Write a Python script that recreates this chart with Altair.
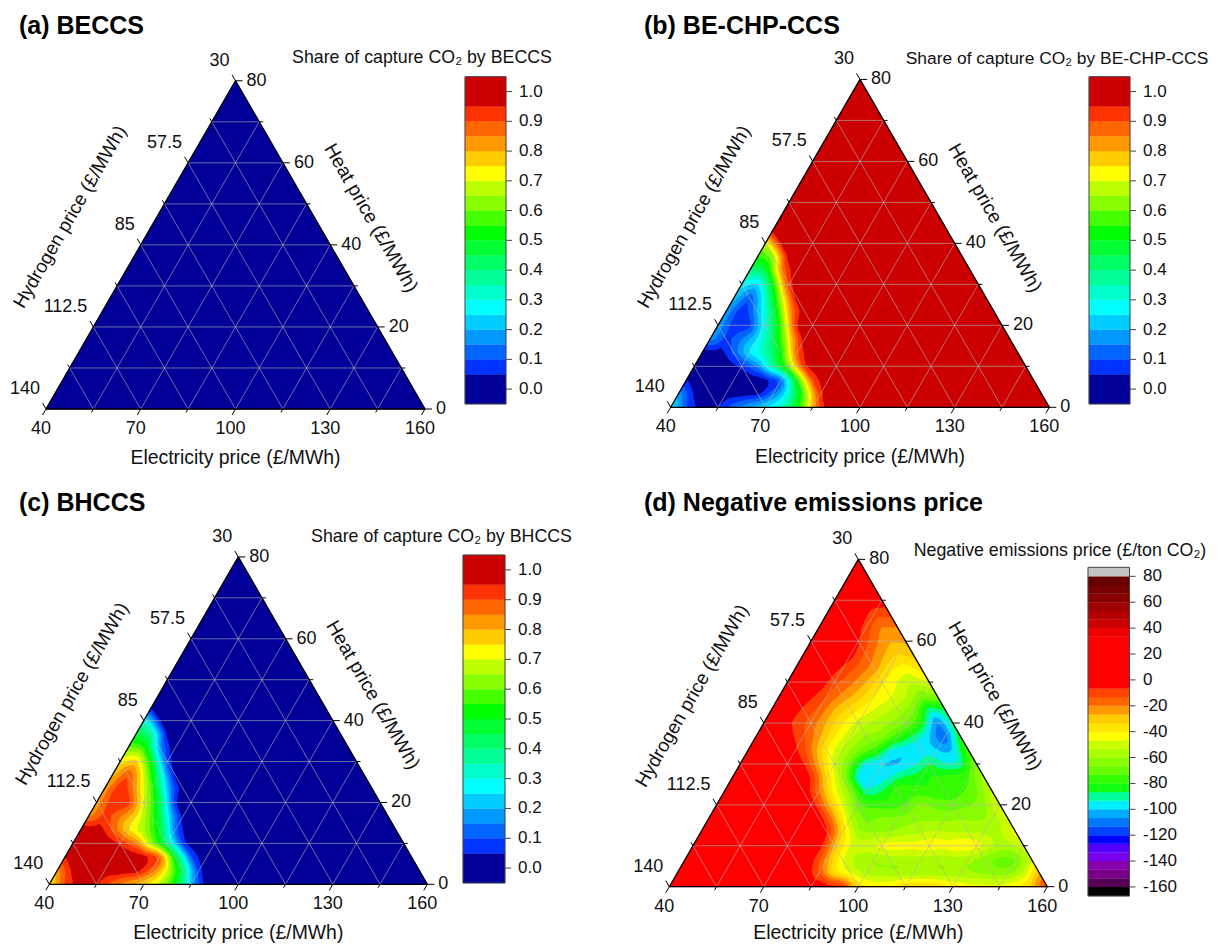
import altair as alt
import pandas as pd

share_levels = [-0.05, 0.05, 0.10, 0.15, 0.20, 0.25, 0.30, 0.35, 0.40, 0.45, 0.50, 0.55, 0.60, 0.65, 0.70, 0.75, 0.80, 0.85, 0.90, 0.95, 1.05]
share_colors = ["#000099", "#0033ff", "#0066ff", "#0099ff", "#00ccff", "#00ffff", "#00ffcc", "#00ff99", "#00ff66", "#00ff33",
                "#00ff00", "#44ff00", "#88ff00", "#bbff00", "#ffff00", "#ffcc00", "#ff9900", "#ff6600", "#ff3300", "#cc0000"]
share_ticks = [0.0, 0.1, 0.2, 0.3, 0.4, 0.5, 0.6, 0.7, 0.8, 0.9, 1.0]

neg_levels = [-167, -160, -153.3, -146.7, -140, -133.3, -126.7, -120, -113.3, -106.7, -100, -93.3, -86.7, -80, -73.3, -66.7, -60,
              -53.3, -46.7, -40, -33.3, -26.7, -20, -13.3, -6.7, 33.3, 40, 46.7, 53.3, 60, 66.7, 73.3, 80, 87]
neg_colors = ["#000000", "#550055", "#770088", "#8800aa", "#7700ee", "#5500ff", "#0000ff", "#0044ff", "#0077ff", "#00aaff",
              "#00eeff", "#00ff99", "#11ff11", "#33ff00", "#66ff00", "#88ff00", "#aaff00", "#ccff00", "#ffff00", "#ffe500", "#ffcc00",
              "#ff9900", "#ff6600", "#ff4400", "#ff0000", "#ee0000", "#cc0000", "#b30000", "#a00000", "#880000", "#770000", "#660000", "#c4c4c4"]
neg_ticks = [-160, -140, -120, -100, -80, -60, -40, -20, 0, 20, 40, 60, 80]

bottom_labels = ["40", "70", "100", "130", "160"]
left_labels = ["140", "112.5", "85", "57.5", "30"]
right_labels = ["0", "20", "40", "60", "80"]

a_rows = [[0.0, 0.0], [0.0]]
b_rows = [
    [0.30, 0.08, 0.03, 0.05, 0.15, 0.22, 0.28, 0.33, 0.50, 0.80, 1.0],
    [0.20, 0.03, 0.0, 0.0, 0.0, 0.0, 0.12, 0.30, 0.58, 0.95, 1.0],
    [0.05, 0.0, 0.0, 0.0, 0.0, 0.0, 0.05, 0.50, 0.92, 1.0],
    [0.0, 0.0, 0.0, 0.05, 0.15, 0.40, 0.65, 0.97, 1.0],
    [0.0, 0.0, 0.12, 0.28, 0.35, 0.50, 0.90, 1.0],
    [0.20, 0.07, 0.15, 0.25, 0.42, 0.72, 1.0],
    [0.20, 0.05, 0.05, 0.30, 0.55, 0.98, 1.0],
    [0.20, 0.03, 0.20, 0.42, 0.80, 1.0],
    [0.25, 0.07, 0.30, 0.65, 1.0],
    [0.30, 0.20, 0.50, 0.95, 1.0],
    [0.40, 0.42, 0.85, 1.0],
    [0.55, 0.60, 1.0],
    [0.65, 0.98, 1.0],
]
c_rows = [
    [0.70, 0.92, 0.97, 0.95, 0.85, 0.78, 0.72, 0.67, 0.50, 0.20, 0.0],
    [0.80, 0.97, 1.0, 1.0, 1.0, 1.0, 0.88, 0.70, 0.42, 0.05, 0.0],
    [0.95, 1.0, 1.0, 1.0, 1.0, 1.0, 0.95, 0.50, 0.08, 0.0],
    [1.0, 1.0, 1.0, 0.95, 0.85, 0.60, 0.35, 0.03, 0.0],
    [1.0, 1.0, 0.88, 0.72, 0.65, 0.50, 0.10, 0.0],
    [0.80, 0.93, 0.85, 0.75, 0.58, 0.28, 0.0],
    [0.80, 0.95, 0.95, 0.70, 0.45, 0.02, 0.0],
    [0.80, 0.97, 0.80, 0.58, 0.20, 0.0],
    [0.75, 0.93, 0.70, 0.35, 0.0],
    [0.70, 0.80, 0.50, 0.05, 0.0],
    [0.60, 0.58, 0.15, 0.0],
    [0.45, 0.40, 0.0],
    [0.35, 0.02, 0.0],
]
d_rows = [
    [0, 0, 0, 0, 0, 0, 0, 0, 0, 0, 0, 0, -35, -40, -38, -30, -30, -32, -38, -42, -42, -42, -38, -32, -5],
    [0, 0, 0, 0, 0, 0, 0, 0, 0, -15, -42, -50, -57, -60, -62, -62, -60, -62, -60, -62, -65, -65, -55, -25],
    [0, 0, 0, 0, 0, 0, 0, 0, -3, -25, -48, -58, -62, -60, -58, -58, -60, -58, -60, -65, -72, -70, -50],
    [0, 0, 0, 0, 0, 0, 0, 0, 0, -30, -48, -48, -40, -40, -42, -40, -42, -38, -40, -52, -56, -48],
    [0, 0, 0, 0, 0, 0, 0, 0, -3, -35, -60, -62, -62, -58, -55, -52, -55, -55, -55, -55, -42],
    [0, 0, 0, 0, 0, 0, 0, 0, -25, -55, -70, -65, -65, -62, -62, -62, -60, -62, -60, -48],
    [0, 0, 0, 0, 0, 0, 0, -25, -48, -72, -75, -78, -75, -62, -70, -72, -68, -62, -45],
    [0, 0, 0, 0, 0, 0, -20, -45, -62, -95, -88, -72, -78, -80, -78, -75, -70, -50],
    [0, 0, 0, 0, 0, -5, -35, -60, -102, -99, -95, -85, -82, -78, -75, -75, -55],
    [0, 0, 0, 0, -5, -28, -50, -72, -100, -102, -102, -97, -85, -95, -95, -62],
    [0, 0, 0, -5, -20, -42, -55, -65, -75, -97, -100, -98, -100, -102, -72],
    [0, 0, -3, -12, -25, -40, -52, -62, -62, -78, -90, -100, -118, -78],
    [0, 0, -10, -17, -28, -40, -50, -55, -60, -65, -80, -112, -85],
    [0, 0, -8, -15, -28, -36, -44, -50, -56, -65, -95, -85],
    [0, 0, -5, -13, -22, -30, -40, -45, -52, -68, -60],
    [0, 0, -1, -12, -18, -27, -40, -48, -55, -45],
    [0, 0, 0, -8, -16, -22, -38, -45, -35],
    [0, 0, 0, -3, -16, -25, -35, -30],
    [0, 0, 0, -5, -18, -27, -25],
    [0, 0, -1, -10, -22, -20],
    [0, 0, 0, -12, -10],
    [0, 0, 0, -2],
]

FONT = "Liberation Sans"
SQ = 3 ** 0.5 / 2


def pad(rows, n, fill):
    out = []
    for r in range(n + 1):
        row = list(rows[r]) if r < len(rows) else []
        out.append(row + [fill] * (n + 1 - r - len(row)))
    return out


def refine(grid, n, weight):
    """Contour smoothing of the read lattice, as the original's contour plot does."""
    m = 2 * n
    g = [[0.0] * (m + 1 - r) for r in range(m + 1)]
    for r in range(m + 1):
        for i in range(m + 1 - r):
            if r % 2 == 0 and i % 2 == 0:
                g[r][i] = grid[r // 2][i // 2]
            elif r % 2 == 0:
                g[r][i] = (grid[r // 2][(i - 1) // 2] + grid[r // 2][(i + 1) // 2]) / 2
            elif i % 2 == 0:
                g[r][i] = (grid[(r - 1) // 2][i // 2] + grid[(r + 1) // 2][i // 2]) / 2
            else:
                g[r][i] = (grid[(r - 1) // 2][(i + 1) // 2] + grid[(r + 1) // 2][(i - 1) // 2]) / 2
    s = [row[:] for row in g]
    for r in range(m + 1):
        for i in range(m + 1 - r):
            nb = []
            for dr, di in ((0, 1), (0, -1), (1, 0), (-1, 0), (1, -1), (-1, 1)):
                R, I = r + dr, i + di
                if 0 <= R <= m and 0 <= I <= m - R:
                    nb.append(g[R][I])
            s[r][i] = (1 - weight) * g[r][i] + weight * sum(nb) / len(nb)
    return s, m


def clip(poly, level, keep_above):
    out = []
    for k in range(len(poly)):
        a, b = poly[k], poly[(k + 1) % len(poly)]
        ina = a[2] >= level if keep_above else a[2] <= level
        inb = b[2] >= level if keep_above else b[2] <= level
        if ina:
            out.append(a)
        if ina != inb:
            t = (level - a[2]) / (b[2] - a[2])
            out.append((a[0] + t * (b[0] - a[0]), a[1] + t * (b[1] - a[1]), level))
    return out


def band_polygons(rows, n, fill, levels, colors, L, B, S):
    grid = pad(rows, n, fill)
    if n > 1:
        grid, n = refine(grid, n, 0.5)
        grid, n = refine(grid, n, 0.3)
    def node(r, i):
        return (L + S * (i + r / 2) / n, B - S * SQ * r / n, grid[r][i])
    cells = []
    for r in range(n):
        for i in range(n - r):
            cells.append([node(r, i), node(r, i + 1), node(r + 1, i)])
            if i < n - r - 1:
                cells.append([node(r, i + 1), node(r + 1, i + 1), node(r + 1, i)])
    base = next(b for b in range(len(colors)) if levels[b] <= fill <= levels[b + 1])
    recs, pid = [], 0
    for o, p in enumerate([(L, B), (L + S, B), (L + S / 2, B - S * SQ), (L, B)]):
        recs.append({"x": round(p[0], 2), "y": round(p[1], 2), "p": 0, "o": o, "c": colors[base]})
    for b, col in enumerate(colors):
        lo, hi = levels[b], levels[b + 1]
        for tri in cells:
            vals = [p[2] for p in tri]
            if max(vals) < lo or min(vals) > hi:
                continue
            if b == base and min(vals) >= lo and max(vals) <= hi:
                continue
            poly = clip(clip(tri, lo, True), hi, False)
            if len(poly) < 3:
                continue
            pid += 1
            for o, p in enumerate(poly + poly[:1]):
                recs.append({"x": round(p[0], 1), "y": round(p[1], 1), "p": pid, "o": o, "c": col})
    return pd.DataFrame(recs)


def panel(rows, n, fill, levels, colors, ticks, tick_fmt, origin, size, L, B, S, title, title_xy,
          bar_title, bar_title_xy, bar_title_size, bar, bar_range, tick_x, hyd_xy, heat_xy, xlab_y):
    ox, oy = origin
    PW, PH = size
    X = alt.X("x:Q", scale=alt.Scale(domain=[ox, ox + PW], nice=False, zero=False), axis=None)
    Y = alt.Y("y:Q", scale=alt.Scale(domain=[oy + PH, oy], nice=False, zero=False), axis=None)
    X2, Y2 = alt.X2("x2:Q"), alt.Y2("y2:Q")
    H = S * SQ
    apex = (L + S / 2, B - H)

    polys = band_polygons(rows, n, fill, levels, colors, L, B, S)
    fills = alt.Chart(polys).mark_line(filled=True, strokeWidth=0.8, interpolate="linear").encode(
        x=X, y=Y, order="o:Q", detail="p:N",
        fill=alt.Fill("c:N", scale=None), stroke=alt.Stroke("c:N", scale=None))

    grid, tks = [], []
    for k in range(1, 8):
        f = k / 8
        grid.append(dict(x=L + S * f / 2, y=B - H * f, x2=L + S * (1 - f / 2), y2=B - H * f))
        grid.append(dict(x=L + S * f, y=B, x2=L + S * (f + 1) / 2, y2=B - H * (1 - f)))
        grid.append(dict(x=L + S * f, y=B, x2=L + S * f / 2, y2=B - H * f))
    gridm = alt.Chart(pd.DataFrame(grid)).mark_rule(color="#b4b4b4", strokeWidth=0.8, opacity=0.75).encode(x=X, y=Y, x2=X2, y2=Y2)

    for k in range(0, 9):
        f = k / 8
        ln = 7 if k % 2 == 0 else 4
        px, py = L + S * f, B
        tks.append(dict(x=px, y=py, x2=px - ln * 0.5, y2=py + ln * SQ))
        px, py = L + S * f / 2, B - H * f
        tks.append(dict(x=px, y=py, x2=px - ln * 0.5, y2=py - ln * SQ))
        px, py = L + S * (1 - f / 2), B - H * f
        tks.append(dict(x=px, y=py, x2=px + ln, y2=py))
    tickm = alt.Chart(pd.DataFrame(tks)).mark_rule(color="black", strokeWidth=1).encode(x=X, y=Y, x2=X2, y2=Y2)

    frame = [dict(x=L, y=B, x2=L + S, y2=B), dict(x=L, y=B, x2=apex[0], y2=apex[1]), dict(x=L + S, y=B, x2=apex[0], y2=apex[1])]
    framem = alt.Chart(pd.DataFrame(frame)).mark_rule(color="black", strokeWidth=1.3).encode(x=X, y=Y, x2=X2, y2=Y2)

    def text(df, **kw):
        base = dict(font=FONT, fontSize=18, color="#111111")
        base.update(kw)
        return alt.Chart(pd.DataFrame(df)).mark_text(**base).encode(x=X, y=Y, text="t:N")

    blab, llab, rlab = [], [], []
    for k in range(5):
        f = k / 4
        blab.append(dict(x=L + S * f - 5, y=B + 20, t=bottom_labels[k]))
        llab.append(dict(x=L + S * f / 2 - 6, y=B - H * f - 20, t=left_labels[k]))
        rlab.append(dict(x=L + S * (1 - f / 2) + 11, y=B - H * f, t=right_labels[k]))

    layers = [fills, gridm, tickm, framem,
              text(blab, align="center", baseline="middle"),
              text(llab, align="right", baseline="middle"),
              text(rlab, align="left", baseline="middle"),
              text([dict(x=L + S / 2, y=xlab_y, t="Electricity price (£/MWh)")], align="center", baseline="middle", fontSize=19.4),
              text([dict(x=hyd_xy[0], y=hyd_xy[1], t="Hydrogen price (£/MWh)")], align="center", baseline="middle", angle=300, fontSize=19),
              text([dict(x=heat_xy[0], y=heat_xy[1], t="Heat price (£/MWh)")], align="center", baseline="middle", angle=60, fontSize=19.4),
              text([dict(x=title_xy[0], y=title_xy[1], t=title)], align="left", baseline="middle", fontSize=25, fontWeight="bold", color="black"),
              text([dict(x=bar_title_xy[0], y=bar_title_xy[1], t=bar_title)], align="center", baseline="middle", fontSize=bar_title_size)]

    x0, x1, y_top, y_bot = bar
    v_top, v_bot = bar_range
    to_y = lambda v: y_top + (v_top - v) / (v_top - v_bot) * (y_bot - y_top)
    cb = []
    for b, col in enumerate(colors):
        cb.append(dict(x=x0, x2=x1, y=to_y(levels[b]), y2=to_y(levels[b + 1]), c=col))
    barm = alt.Chart(pd.DataFrame(cb)).mark_rect(strokeWidth=0.3).encode(
        x=X, y=Y, x2=X2, y2=Y2, fill=alt.Fill("c:N", scale=None), stroke=alt.Stroke("c:N", scale=None))
    box = alt.Chart(pd.DataFrame([dict(x=x0, x2=x1, y=y_top, y2=y_bot)])).mark_rect(fillOpacity=0, stroke="#444444", strokeWidth=1).encode(x=X, y=Y, x2=X2, y2=Y2)
    tk = pd.DataFrame([dict(x=x1, x2=x1 + 6, y=to_y(v), y2=to_y(v)) for v in ticks])
    barticks = alt.Chart(tk).mark_rule(color="#444444", strokeWidth=1).encode(x=X, y=Y, x2=X2, y2=Y2)
    barlabels = text([dict(x=tick_x, y=to_y(v), t=tick_fmt(v)) for v in ticks], align="left", baseline="middle", fontSize=17)
    layers += [barm, box, barticks, barlabels]
    return alt.layer(*layers).properties(width=PW, height=PH)


share_fmt = lambda v: f"{v:.1f}"
neg_fmt = lambda v: f"{v:d}"

pa = panel(a_rows, 1, 0.0, share_levels, share_colors, share_ticks, share_fmt, (8, 8), (601, 465), 46, 409, 379,
           "(a) BECCS", (19, 26), "Share of capture CO₂ by BECCS", (422, 58), 17.8, (465, 506, 76.7, 404), (1.05, -0.05), 519,
           (70, 217), (371, 218), 458)
pb = panel(b_rows, 24, 1.0, share_levels, share_colors, share_ticks, share_fmt, (609, 8), (601, 465), 670.7, 407.3, 378.6,
           "(b) BE-CHP-CCS", (644, 26), "Share of capture CO₂ by BE-CHP-CCS", (1057, 59), 17.4, (1089, 1130, 76.7, 404), (1.05, -0.05), 1143,
           (694, 217), (995, 218), 457)
pc = panel(c_rows, 24, 0.0, share_levels, share_colors, share_ticks, share_fmt, (8, 473), (601, 466), 49.3, 884.3, 378,
           "(c) BHCCS", (19, 503), "Share of capture CO₂ by BHCCS", (441.5, 537), 17.8, (463, 505, 555, 883), (1.05, -0.05), 518,
           (72, 694), (373, 695), 933)
pd_ = panel(d_rows, 24, 0, neg_levels, neg_colors, neg_ticks, neg_fmt, (609, 473), (601, 466), 669.3, 886.7, 378,
            "(d) Negative emissions price", (644, 503), "Negative emissions price (£/ton CO₂)", (1060, 551), 17.8, (1088, 1129.5, 567.3, 896), (87, -167), 1143,
            (692, 696), (995, 696), 933)

chart = alt.vconcat(alt.hconcat(pa, pb, spacing=0), alt.hconcat(pc, pd_, spacing=0), spacing=0).properties(
    padding=0, background="white"
).configure_view(stroke=None).resolve_scale(x="independent", y="independent")

chart.save("out.html", embed_options={"renderer": "svg", "actions": False})
